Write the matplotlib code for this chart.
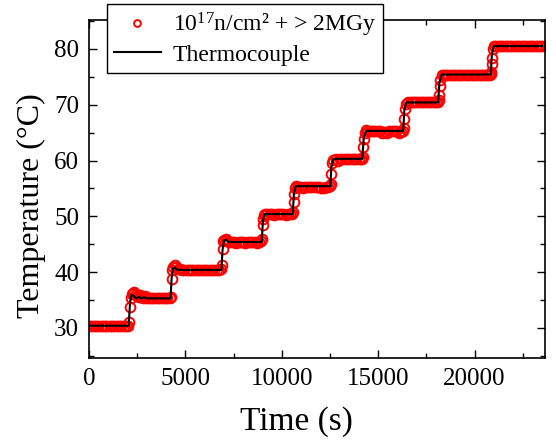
import matplotlib
matplotlib.use("Agg")
import matplotlib.pyplot as plt
from matplotlib.ticker import MultipleLocator

plt.rcParams['font.family'] = ['Liberation Serif', 'DejaVu Serif']
plt.rcParams['mathtext.fontset'] = 'custom'
plt.rcParams['mathtext.rm'] = 'Liberation Serif'

# Thermocouple reading (time in s, temperature in degC)
tc_time = [0, 2060, 2130, 2200, 2300, 2450, 2600, 2700, 2850, 3000, 4230,
           4290, 4360, 4450, 4600, 6870, 6930, 7010, 7100, 7250, 8960,
           9020, 9100, 9200, 10570, 10630, 10720, 12520, 12580, 12680,
           14180, 14250, 14380, 16300, 16360, 16460, 18110, 18180, 18300,
           20840, 20900, 21000, 23500]
tc_temp = [30.4, 30.4, 34.5, 35.9, 35.8, 35.3, 35.6, 35.3, 35.5, 35.3, 35.3,
           39.0, 40.7, 40.8, 40.4, 40.4, 44.0, 45.7, 45.8, 45.4, 45.4,
           49.0, 50.4, 50.4, 50.4, 54.0, 55.4, 55.4, 59.0, 60.3,
           60.3, 64.0, 65.3, 65.3, 69.0, 70.4, 70.4, 74.0, 75.4,
           75.4, 79.0, 80.5, 80.5]

# Sensor (10^17 n/cm2 + >2 MGy) readings as (time s, temperature degC)
sensor_step0 = [(0, 30.4), (120, 30.4), (240, 30.3), (360, 30.4), (480, 30.4), (600, 30.4),
                (720, 30.3), (840, 30.4), (960, 30.4), (1080, 30.4), (1200, 30.3), (1320, 30.4),
                (1440, 30.4), (1560, 30.4), (1680, 30.3), (1800, 30.4), (1920, 30.4), (2040, 30.4)]
sensor_step1 = [(2090, 31.1), (2140, 33.8), (2180, 35.3), (2220, 36.0), (2280, 36.3), (2350, 36.4),
                (2420, 36.1), (2500, 35.7), (2580, 35.6), (2660, 35.9), (2740, 35.5), (2820, 35.4),
                (2900, 35.7), (2980, 35.4), (3100, 35.3), (3220, 35.3), (3340, 35.4), (3460, 35.3),
                (3580, 35.3), (3700, 35.3), (3820, 35.4), (3940, 35.3), (4060, 35.3), (4180, 35.3)]
sensor_step2 = [(4250, 35.6), (4290, 38.8), (4330, 40.3), (4380, 41.0), (4440, 41.3), (4510, 41.0),
                (4600, 40.6), (4700, 40.5), (4820, 40.4), (4940, 40.4), (5060, 40.4), (5180, 40.3),
                (5300, 40.4), (5420, 40.4), (5540, 40.4), (5660, 40.3), (5780, 40.4), (5900, 40.4),
                (6020, 40.4), (6140, 40.4), (6260, 40.3), (6380, 40.4), (6500, 40.4), (6620, 40.4),
                (6740, 40.4), (6850, 40.5)]
sensor_step3 = [(6890, 41.2), (6930, 44.2), (6970, 45.5), (7020, 45.8), (7090, 45.9), (7170, 45.6),
                (7280, 45.4), (7400, 45.4), (7520, 45.4), (7640, 45.3), (7760, 45.4), (7880, 45.4),
                (8000, 45.4), (8120, 45.3), (8240, 45.4), (8360, 45.4), (8480, 45.4), (8600, 45.4),
                (8720, 45.3), (8840, 45.4), (8930, 45.5)]
sensor_step4 = [(8980, 45.9), (9010, 48.5), (9050, 49.6), (9090, 50.3), (9150, 50.5), (9250, 50.4),
                (9370, 50.4), (9490, 50.4), (9610, 50.3), (9730, 50.4), (9850, 50.4), (9970, 50.4),
                (10090, 50.4), (10210, 50.3), (10330, 50.4), (10450, 50.4), (10550, 50.5)]
sensor_step5 = [(10590, 50.8), (10620, 52.5), (10650, 54.0), (10690, 55.0), (10740, 55.4), (10860, 55.3),
                (10980, 55.2), (11100, 55.0), (11220, 55.2), (11340, 55.3), (11460, 55.3), (11580, 55.3),
                (11700, 55.3), (11820, 55.3), (11940, 55.2), (12060, 55.0), (12180, 55.1), (12300, 55.2),
                (12420, 55.3), (12500, 55.4)]
sensor_step6 = [(12540, 55.8), (12580, 57.5), (12620, 59.5), (12670, 60.1), (12790, 60.2), (12910, 60.0),
                (13030, 60.2), (13150, 60.2), (13270, 60.3), (13390, 60.2), (13510, 60.2), (13630, 60.2),
                (13750, 60.2), (13870, 60.2), (13990, 60.2), (14110, 60.2), (14170, 60.3)]
sensor_step7 = [(14200, 60.6), (14230, 62.5), (14270, 63.9), (14320, 64.9), (14380, 65.4), (14500, 65.3),
                (14620, 65.3), (14740, 65.3), (14860, 65.3), (14980, 65.2), (15100, 65.2), (15220, 65.0),
                (15340, 65.1), (15460, 65.0), (15580, 65.2), (15700, 65.2), (15820, 65.3), (15940, 65.2),
                (16060, 65.0), (16180, 65.1), (16290, 65.3)]
sensor_step8 = [(16320, 65.9), (16350, 67.5), (16390, 69.3), (16440, 70.1), (16560, 70.4), (16680, 70.4),
                (16800, 70.4), (16920, 70.4), (17040, 70.4), (17160, 70.4), (17280, 70.4), (17400, 70.4),
                (17520, 70.4), (17640, 70.4), (17760, 70.4), (17880, 70.4), (18000, 70.4), (18110, 70.4)]
sensor_step9 = [(18140, 70.8), (18160, 71.8), (18190, 73.3), (18230, 74.5), (18290, 75.3), (18410, 75.4),
                (18530, 75.4), (18650, 75.4), (18770, 75.4), (18890, 75.4), (19010, 75.4), (19130, 75.4),
                (19250, 75.4), (19370, 75.4), (19490, 75.4), (19610, 75.4), (19730, 75.4), (19850, 75.4),
                (19970, 75.4), (20090, 75.4), (20210, 75.4), (20330, 75.4), (20450, 75.4), (20570, 75.4),
                (20690, 75.4), (20810, 75.4), (20850, 75.5)]
sensor_step10 = [(20870, 75.8), (20890, 77.3), (20910, 78.3), (20950, 79.9), (21010, 80.5), (21130, 80.5),
                 (21250, 80.5), (21370, 80.5), (21490, 80.5), (21610, 80.5), (21730, 80.5), (21850, 80.5),
                 (21970, 80.5), (22090, 80.5), (22210, 80.5), (22330, 80.5), (22450, 80.5), (22570, 80.5),
                 (22690, 80.5), (22810, 80.5), (22930, 80.5), (23050, 80.5), (23170, 80.5), (23290, 80.5),
                 (23410, 80.5), (23500, 80.5)]

sensor_points = (sensor_step0 + sensor_step1 + sensor_step2 + sensor_step3 + sensor_step4 +
                 sensor_step5 + sensor_step6 + sensor_step7 + sensor_step8 + sensor_step9 +
                 sensor_step10)
sensor_time = [p[0] for p in sensor_points]
sensor_temp = [p[1] for p in sensor_points]

sensor_label = r"$\mathregular{10^{17}}$n/cm² + > 2MGy"
tc_label = "Thermocouple"

fig = plt.figure(figsize=(5.56, 4.41), dpi=100)
ax = fig.add_axes([0.160, 0.188, 0.820, 0.767])

ax.plot(sensor_time, sensor_temp, linestyle='none', marker='o', markersize=7,
        markerfacecolor='none', markeredgecolor='#ff0000', markeredgewidth=1.4,
        label=sensor_label, zorder=2)
ax.plot(tc_time, tc_temp, color='black', linewidth=1.5, label=tc_label, zorder=3)

ax.set_xlim(0, 23650)
ax.set_ylim(24.6, 85.2)
ax.xaxis.set_major_locator(MultipleLocator(5000))
ax.xaxis.set_minor_locator(MultipleLocator(2500))
ax.yaxis.set_major_locator(MultipleLocator(10))
ax.yaxis.set_minor_locator(MultipleLocator(5))
ax.tick_params(which='both', direction='in', top=True, right=True, width=1.0)
ax.tick_params(which='major', length=6, labelsize=18, pad=7)
ax.tick_params(which='minor', length=3.5)
for s in ax.spines.values():
    s.set_linewidth(1.2)

ax.set_xlabel("Time (s)", fontsize=24)
ax.xaxis.set_label_coords(0.454, -0.142)
ax.set_ylabel("Temperature (°C)", fontsize=23)
ax.yaxis.set_label_coords(-0.095, 0.45)

leg = fig.legend(loc='upper left', bbox_to_anchor=(0.192, 0.991), fontsize=17,
                 frameon=True, fancybox=False, edgecolor='black', framealpha=1,
                 numpoints=1, markerscale=0.7, handlelength=2.0, borderpad=0.3,
                 labelspacing=0.2, handletextpad=0.5, borderaxespad=0)
leg.get_frame().set_linewidth(1.0)

fig.savefig("out.png", dpi=100)
